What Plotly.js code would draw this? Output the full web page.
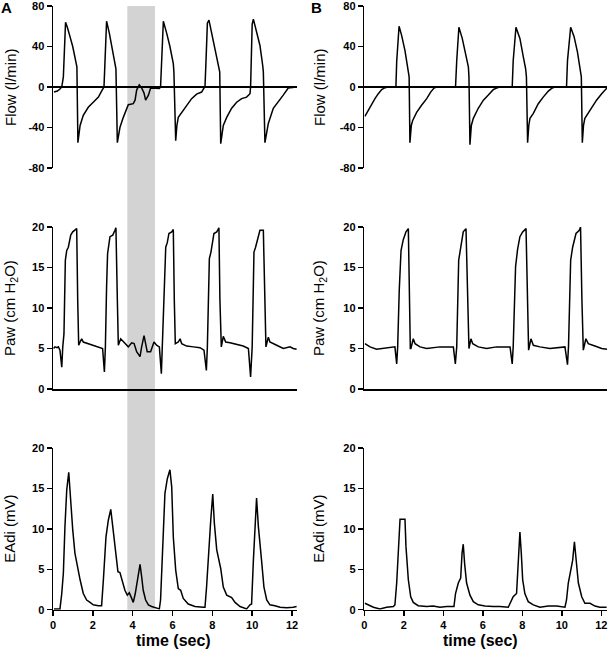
<!DOCTYPE html>
<html>
<head>
<meta charset="utf-8">
<script src="https://cdn.plot.ly/plotly-3.0.1.min.js"></script>
<style>html,body{margin:0;padding:0;background:#fff;}#chart{width:609px;height:653px;}</style>
</head>
<body>
<div id="chart"></div>
<script>
// ---- Data: [time (sec), value] ----
const flowA = [[0.05,-5],[0.22,-4],[0.35,-2],[0.44,0],[0.52,10],[0.6,60],[0.63,64],[0.72,59],[0.77,56],[0.85,50],[0.99,40],[1.1,31],[1.2,20],[1.25,-55],[1.3,-45],[1.36,-38],[1.52,-28],[1.77,-20],[2.02,-15],[2.28,-10],[2.44,-4],[2.56,0],[2.62,30],[2.66,61],[2.69,65],[2.83,53],[3.03,33],[3.16,18],[3.23,-55],[3.36,-40],[3.53,-30],[3.7,-21],[3.78,-17.5],[4.03,-16.5],[4.12,-13],[4.2,-3],[4.33,2],[4.45,-1],[4.57,-6],[4.65,-13],[4.79,-8],[4.9,-1],[5.04,-1],[5.34,-1.5],[5.4,0],[5.46,30],[5.5,62],[5.54,65],[5.71,53],[5.87,40],[6.04,23],[6.07,15],[6.16,-53],[6.22,-38],[6.29,-30],[6.46,-25],[6.71,-18],[6.96,-11.5],[7.21,-7],[7.46,-5],[7.58,-1],[7.63,0],[7.69,30],[7.75,63],[7.83,66],[7.97,53],[8.13,40],[8.33,21],[8.37,15],[8.42,-56],[8.55,-38],[8.72,-30],[8.97,-21],[9.22,-15],[9.47,-11.5],[9.72,-10],[9.89,-6.6],[9.92,0],[9.97,30],[10.0,62],[10.06,67],[10.22,55],[10.39,41],[10.53,21],[10.56,15],[10.64,-55],[10.81,-36],[11.06,-21],[11.31,-15],[11.56,-8],[11.81,-1],[12.06,0],[12.23,0]];

const flowB = [[0.03,-29],[0.2,-23],[0.37,-16.5],[0.54,-11.5],[0.71,-6.6],[0.88,-2.6],[1.05,-0.7],[1.22,0],[1.6,0],[1.64,25],[1.76,60],[1.89,51],[2.06,36],[2.23,18],[2.27,10],[2.31,-55],[2.38,-38],[2.45,-33],[2.65,-25],[2.9,-18],[3.16,-11.5],[3.36,-5],[3.53,-1],[3.66,0],[4.62,0],[4.68,26],[4.79,59],[4.96,48],[5.13,33],[5.27,20],[5.3,10],[5.35,-57],[5.42,-38],[5.52,-31],[5.77,-21],[6.03,-13],[6.28,-8],[6.53,-2.6],[6.73,-0.7],[6.87,0],[7.49,0],[7.54,26],[7.68,59],[7.88,48],[8.05,30],[8.17,18],[8.21,10],[8.27,-55],[8.33,-38],[8.39,-31],[8.56,-26],[8.81,-16.5],[9.06,-10],[9.32,-4],[9.52,-1],[9.65,0],[10.24,0],[10.29,26],[10.45,59],[10.62,50],[10.79,35],[10.95,18],[10.99,10],[11.04,-55],[11.1,-38],[11.17,-31],[11.34,-26],[11.51,-20],[11.76,-13],[12.02,-6.6],[12.19,-3.3],[12.3,-0.7]];

const pawA = [[0.03,5.0],[0.1,5.2],[0.2,5.1],[0.27,5.2],[0.35,4.8],[0.44,2.7],[0.49,5.2],[0.55,6.8],[0.62,15.9],[0.69,17.1],[0.77,17.5],[0.89,19],[0.99,19.4],[1.1,19.6],[1.19,19.8],[1.24,11],[1.29,5.4],[1.36,5.8],[1.44,6.2],[1.52,5.8],[1.77,5.6],[2.02,5.4],[2.28,5.2],[2.49,5.0],[2.58,2.1],[2.63,5.2],[2.69,12.6],[2.74,16.7],[2.86,18.8],[3.0,19],[3.11,19.6],[3.16,19.9],[3.23,11],[3.28,5.4],[3.4,6.2],[3.61,5.6],[3.78,5.2],[3.95,5.7],[4.07,5.6],[4.2,4.6],[4.37,4.0],[4.45,5.2],[4.57,6.6],[4.65,5.6],[4.73,4.6],[4.9,4.6],[5.07,5.8],[5.2,5.4],[5.34,5.2],[5.44,1.9],[5.49,5.2],[5.57,13],[5.66,17.5],[5.74,18.1],[5.82,19.2],[5.96,19.4],[6.04,19.7],[6.09,11],[6.14,5.6],[6.29,5.8],[6.38,6.2],[6.46,5.6],[6.71,5.3],[7.05,5.2],[7.38,5.1],[7.58,4.8],[7.70,2.3],[7.75,5.2],[7.85,16.1],[7.93,16.9],[8.08,19.2],[8.22,19.4],[8.33,19.9],[8.38,11],[8.45,5.2],[8.55,6.5],[8.67,5.8],[8.89,5.7],[9.22,5.5],[9.55,5.3],[9.81,5.0],[9.92,1.5],[10.0,5.2],[10.09,16.9],[10.17,17.5],[10.31,18.8],[10.39,19.6],[10.56,19.6],[10.64,11],[10.69,5.2],[10.81,6.4],[10.89,5.8],[11.23,5.4],[11.56,5.0],[11.9,5.2],[12.06,5.0],[12.23,4.9]];

const pawB = [[0.03,5.6],[0.29,5.2],[0.62,4.9],[0.96,5.0],[1.3,5.1],[1.55,5.2],[1.64,3.1],[1.69,5.2],[1.77,12.2],[1.86,17.1],[1.97,18.4],[2.11,19.4],[2.23,19.8],[2.28,11],[2.33,5.0],[2.36,5.0],[2.48,6.2],[2.57,5.6],[2.82,5.2],[3.16,5.0],[3.49,5.1],[3.83,5.2],[4.17,5.2],[4.51,5.2],[4.61,3.1],[4.68,5.2],[4.78,15.9],[4.88,17.5],[5.01,19.4],[5.15,19.8],[5.23,11],[5.3,5.0],[5.4,6.2],[5.49,5.6],[5.77,5.2],[6.19,5.0],[6.7,5.2],[7.38,5.2],[7.49,3.1],[7.54,5.2],[7.66,15.1],[7.76,17.2],[7.88,18.8],[8.02,19.4],[8.19,19.8],[8.27,11],[8.32,4.8],[8.44,6.2],[8.56,5.4],[8.89,5.2],[9.4,5.0],[10.16,5.2],[10.29,3.0],[10.34,5.2],[10.45,15.9],[10.55,17.5],[10.72,19.2],[10.89,19.6],[10.95,20],[11.02,11],[11.09,4.8],[11.22,6.2],[11.34,5.6],[11.68,5.3],[12.02,5.0],[12.3,4.9]];

const eadiA = [[0.05,0.1],[0.35,0.1],[0.44,2],[0.52,4.5],[0.6,10.3],[0.69,14.8],[0.79,17],[0.89,13.2],[0.99,9.9],[1.1,7],[1.22,5.3],[1.36,3.7],[1.52,2],[1.69,1.2],[1.86,0.9],[2.02,0.6],[2.28,0.5],[2.44,0.5],[2.53,3.7],[2.66,9],[2.78,11.1],[2.9,12.4],[2.98,10.7],[3.06,9],[3.16,6.6],[3.26,4.7],[3.36,4.6],[3.45,3.7],[3.61,2.4],[3.73,1.8],[3.83,2.1],[3.95,1.4],[4.03,0.9],[4.13,2],[4.23,3.7],[4.37,5.6],[4.45,4.1],[4.53,2.4],[4.65,1.2],[4.79,0.6],[4.95,0.4],[5.12,0.25],[5.34,0.1],[5.4,1.2],[5.5,7],[5.62,14.4],[5.74,16.2],[5.87,17.3],[5.96,15.2],[6.04,9],[6.16,4.9],[6.29,2.6],[6.41,2.4],[6.54,1.4],[6.79,0.7],[7.13,0.4],[7.55,0.3],[7.63,0.3],[7.71,2.8],[7.8,7],[7.92,11.1],[8.02,14.3],[8.1,10.7],[8.22,7.4],[8.32,6.1],[8.42,5.1],[8.55,2.8],[8.72,1.8],[8.97,1.5],[9.14,0.9],[9.39,0.4],[9.72,0.1],[9.89,0.6],[9.97,0.7],[10.06,6.1],[10.14,11.1],[10.22,13.8],[10.31,10.3],[10.39,7.8],[10.47,6.1],[10.59,2.8],[10.73,1.2],[10.89,0.6],[11.14,0.5],[11.4,0.3],[11.73,0.25],[12.06,0.3],[12.23,0.4]];

const eadiB = [[0.03,0.8],[0.2,0.6],[0.46,0.3],[0.79,0.1],[1.13,0.3],[1.47,0.4],[1.55,0.6],[1.64,3.3],[1.72,7],[1.81,11.2],[2.06,11.2],[2.11,7.8],[2.23,3.7],[2.35,1.6],[2.48,0.9],[2.73,0.5],[3.16,0.4],[3.49,0.45],[3.83,0.3],[4.17,0.4],[4.54,0.4],[4.62,2],[4.76,3.3],[4.88,3.9],[4.95,7],[5.01,8.1],[5.08,5.7],[5.18,3.3],[5.35,1.8],[5.52,1.0],[5.77,0.6],[6.11,0.45],[6.53,0.4],[6.87,0.4],[7.29,0.3],[7.41,0.9],[7.54,1.6],[7.71,2.0],[7.8,5.3],[7.88,9.6],[7.95,7],[8.02,3.7],[8.13,2.0],[8.3,1.0],[8.56,0.6],[8.89,0.3],[9.32,0.45],[9.74,0.45],[10.16,0.3],[10.24,1.2],[10.33,3.3],[10.45,4.7],[10.55,6.1],[10.64,8.4],[10.72,6.1],[10.84,3.3],[11.01,1.6],[11.17,0.8],[11.43,0.8],[11.68,0.45],[11.93,0.3],[12.27,0.3]];

const shadeRange = [3.73, 5.12];           // shaded interval in panel A (sec)
const flowTicks = [-80, -40, 0, 40, 80];
const levelTicks = [0, 5, 10, 15, 20];
const timeTicks = [0, 2, 4, 6, 8, 10, 12];
const yTitles = ['Flow (l/min)', 'Paw (cm H<sub>2</sub>O)', 'EAdi (mV)'];
const xTitle = 'time (sec)';
const panelLabels = ['A', 'B'];

// ---- Layout geometry ----
const FONT = 'Liberation Sans, Arial, Helvetica, sans-serif';
const W = 609, H = 653;
const xDomL = [53/W, 297/W], xDomR = [364.3/W, 607/W];
const xRangeL = [0, 12.25], xRangeR = [0, 12.29];
const yDom = [[1-168/H, 1-6/H], [1-389/H, 1-227/H], [1-609.7/H, 1-448/H]];

function trace(data, i) {
  return {
    x: data.map(d => d[0]), y: data.map(d => d[1]),
    xaxis: 'x' + (i === 1 ? '' : i), yaxis: 'y' + (i === 1 ? '' : i),
    type: 'scatter', mode: 'lines',
    line: {color: '#000', width: 1.5}, hoverinfo: 'skip', showlegend: false
  };
}
const traces = [flowA, flowB, pawA, pawB, eadiA, eadiB].map((d, k) => trace(d, k + 1));

const tickFont = {family: FONT, size: 11, color: '#000', weight: 'bold'};
function xAx(left, row) {
  const idx = row * 2 + (left ? 1 : 2);
  const base = {domain: left ? xDomL : xDomR, range: left ? xRangeL : xRangeR,
    showgrid: false, zeroline: false, fixedrange: true, ticklabeloverflow: 'allow',
    anchor: 'y' + (idx === 1 ? '' : idx)};
  if (row === 0) return Object.assign(base, {showline: false, showticklabels: false, ticks: ''});
  if (row === 1) return Object.assign(base, {showline: true, linecolor: '#000', linewidth: 1.5, showticklabels: false, ticks: ''});
  return Object.assign(base, {showline: true, linecolor: '#000', linewidth: 1.5, ticks: 'outside',
    ticklen: 5, tickwidth: 1.5, tickcolor: '#000', tickvals: timeTicks, ticktext: timeTicks.map(String),
    tickfont: tickFont});
}
function yAx(left, row) {
  const idx = row * 2 + (left ? 1 : 2);
  const base = {domain: yDom[row], showgrid: false, showline: true, linecolor: '#000', linewidth: 1.5,
    ticks: 'outside', ticklen: 5, tickwidth: 1.5, tickcolor: '#000', tickfont: tickFont,
    ticklabeloverflow: 'allow', fixedrange: true, anchor: 'x' + (idx === 1 ? '' : idx)};
  if (row === 0) return Object.assign(base, {range: [-80, 80], tickvals: flowTicks, ticktext: flowTicks.map(String),
    zeroline: true, zerolinecolor: '#000', zerolinewidth: 1.5});
  return Object.assign(base, {range: [0, 20], tickvals: levelTicks, ticktext: levelTicks.map(String), zeroline: false});
}

const layout = {
  width: W, height: H, margin: {l: 0, r: 0, t: 0, b: 0},
  paper_bgcolor: '#fff', plot_bgcolor: 'rgba(0,0,0,0)',
  showlegend: false, hovermode: false,
  font: {family: FONT, color: '#000'},
  shapes: [{type: 'rect', xref: 'x5', yref: 'paper', x0: shadeRange[0], x1: shadeRange[1],
    y0: yDom[2][0], y1: yDom[0][1], fillcolor: '#d3d3d3', line: {width: 0}, layer: 'below'}],
  annotations: []
};
for (let row = 0; row < 3; row++) {
  for (let c = 0; c < 2; c++) {
    const idx = row * 2 + c + 1;
    const s = idx === 1 ? '' : idx;
    layout['xaxis' + s] = xAx(c === 0, row);
    layout['yaxis' + s] = yAx(c === 0, row);
  }
}
const yMid = r => (yDom[r][0] + yDom[r][1]) / 2;
[10/W, 319/W].forEach(xp => {
  yTitles.forEach((t, r) => layout.annotations.push({
    text: t, xref: 'paper', yref: 'paper', x: xp, y: yMid(r), xanchor: 'center', yanchor: 'middle',
    textangle: -90, showarrow: false, font: {family: FONT, size: 15, color: '#000'}
  }));
});
[173/W, 480/W].forEach(xp => layout.annotations.push({
  text: xTitle, xref: 'paper', yref: 'paper', x: xp, y: 1 - 640/H, xanchor: 'center', yanchor: 'middle',
  showarrow: false, font: {family: FONT, size: 16, color: '#000', weight: 'bold'}
}));
[[6, panelLabels[0]], [316, panelLabels[1]]].forEach(([px, t]) => layout.annotations.push({
  text: t, xref: 'paper', yref: 'paper', x: px / W, y: 1 - 7/H, xanchor: 'center', yanchor: 'middle',
  showarrow: false, font: {family: FONT, size: 15, color: '#000', weight: 'bold'}
}));

Plotly.newPlot('chart', traces, layout, {staticPlot: true, displayModeBar: false});
</script>
</body>
</html>
